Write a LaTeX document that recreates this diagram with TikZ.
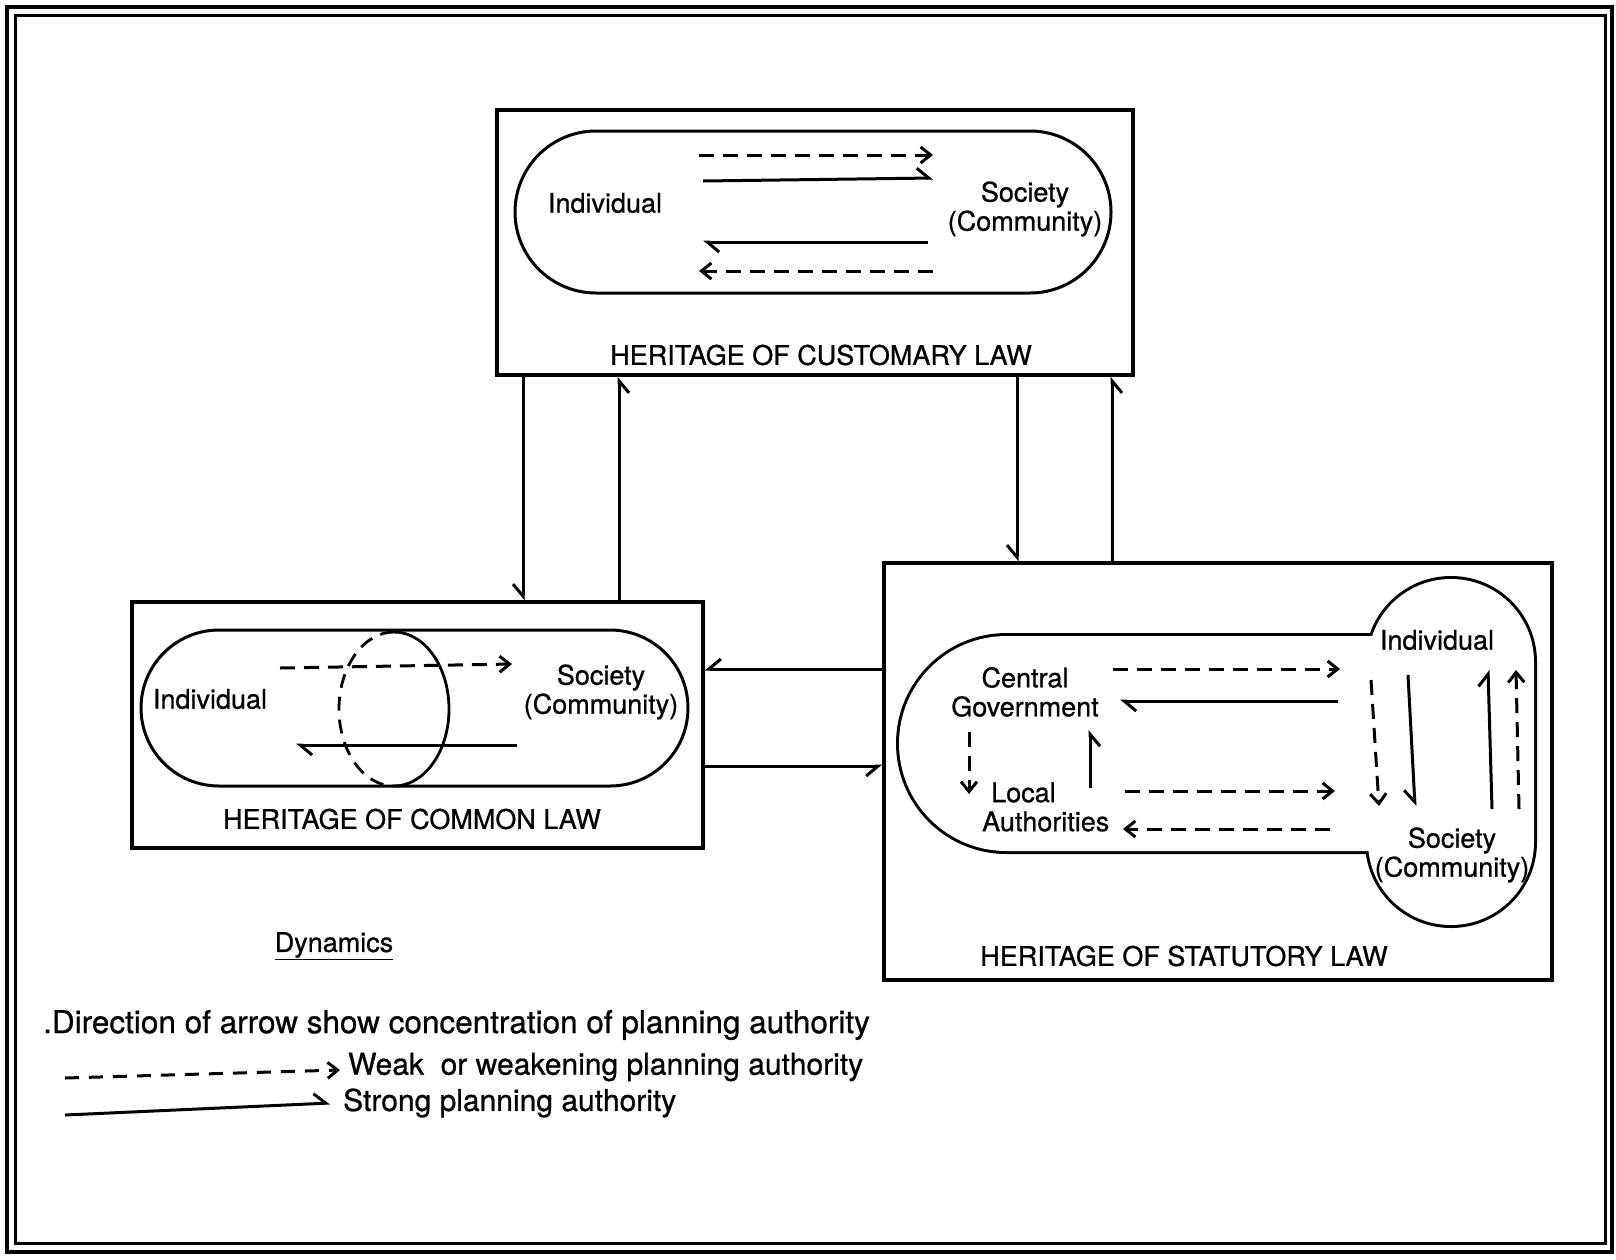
\documentclass[tikz,border=0pt]{standalone}
\usepackage{fontspec}
\setmainfont{TeX Gyre Heros}[FakeBold=0.8]
\usetikzlibrary{arrows.meta,shapes.misc}
\begin{document}
\begin{tikzpicture}[x=1pt,y=-1pt,
  lbl/.style={font=\fontsize{27}{29}\selectfont, align=center, inner sep=0pt},
  legtxt/.style={font=\fontsize{30}{32}\selectfont, anchor=west, inner sep=0pt},
  heritage/.style={draw, line width=3.5pt, rectangle, inner sep=0pt},
  pill/.style={draw, line width=3pt, rounded rectangle, inner sep=0pt},
  weak/.style={line width=3pt, dash pattern=on 15pt off 9pt, -{Straight Barb[length=10pt,width=16pt]}},
  strong/.style={line width=3pt, -{Straight Barb[harpoon,length=12pt,width=20pt]}},
  strongs/.style={line width=3pt, -{Straight Barb[harpoon,swap,length=12pt,width=20pt]}},
]
\useasboundingbox (0,0) rectangle (1616,1259);
\fill[white] (0,0) rectangle (1616,1259);
% outer frame
\draw[line width=4pt] (7,7) rectangle (1612,1252);
\draw[line width=3pt] (15,15) rectangle (1605,1243);

% boxes
\node[heritage, minimum width=636pt, minimum height=265pt] (cust) at (815,242.5) {};
\node[heritage, minimum width=571pt, minimum height=246pt] (comm) at (417.5,725) {};
\node[heritage, minimum width=668pt, minimum height=417pt] (stat) at (1218,771.5) {};

% customary contents
\node[pill, minimum width=596pt, minimum height=162pt] (cpill) at (813,212) {};
\node[lbl] (cind) at (605,203) {Individual};
\node[lbl] (csoc) at (1025,209) {Society\\(Community)};
\draw[weak] (699,155) -- (933,155);
\draw[strong] (703,181) -- (933,178);
\draw[strong] (928,242) -- (703,242);
\draw[weak] (933,271) -- (699,271);
\node[lbl] (ctitle) at (821,355) {HERITAGE OF CUSTOMARY LAW};

% common law contents
\node[pill, minimum width=547pt, minimum height=156pt] (mpill) at (414.5,708) {};
\draw[line width=2.8pt, dash pattern=on 14pt off 9pt] (394,632) arc[start angle=270, end angle=90, x radius=55, y radius=77];
\draw[line width=2.8pt] (394,632) arc[start angle=270, end angle=450, x radius=55, y radius=77];
\node[lbl] (mind) at (210,699) {Individual};
\node[lbl] (msoc) at (601,692) {Society\\(Community)};
\draw[weak] (280,668) -- (512,664);
\draw[strong] (517,745) -- (296,745);
\node[lbl] (mtitle) at (412,819) {HERITAGE OF COMMON LAW};

% statutory contents: union outline
\draw[line width=6pt] (1463,636) -- (1006.5,636) arc[start angle=270, end angle=90, radius=107.5] -- (1463,851) -- cycle;
\draw[line width=6pt] (1368,662) arc[start angle=180, end angle=360, radius=83] -- (1534,842) arc[start angle=0, end angle=180, radius=83] -- cycle;
\fill[white] (1463,636) -- (1006.5,636) arc[start angle=270, end angle=90, radius=107.5] -- (1463,851) -- cycle;
\fill[white] (1368,662) arc[start angle=180, end angle=360, radius=83] -- (1534,842) arc[start angle=0, end angle=180, radius=83] -- cycle;
\node[lbl] (sind) at (1437,640) {Individual};
\node[lbl] (scg) at (1025,692) {Central\\Government};
\node[lbl, align=left, anchor=west] (sla) at (982,807) {\hspace*{9pt}Local\\Authorities};
\node[lbl] (ssoc) at (1452,855) {Society\\(Community)};
\draw[weak] (1113,669) -- (1340,669);
\draw[strong] (1338,701) -- (1120,701);
\draw[weak] (969,732) -- (969,794);
\draw[strongs] (1090,788) -- (1090,730);
\draw[weak] (1125,791) -- (1335,791);
\draw[weak] (1330,829) -- (1123,829);
\draw[weak] (1371,680) -- (1379,806);
\draw[strongs] (1408,675) -- (1415,806);
\draw[strong] (1492,809) -- (1488,670);
\draw[weak] (1519,809) -- (1516,670);
\node[lbl] (stitle) at (1184,956) {HERITAGE OF STATUTORY LAW};

% connectors between boxes
\coordinate (xa) at (523,0);
\coordinate (xb) at (619,0);
\coordinate (xc) at (1017,0);
\coordinate (xd) at (1112,0);
\coordinate (ya) at (0,669);
\coordinate (yb) at (0,766);
\draw[strongs] (cust.south -| xa) -- (comm.north -| xa);
\draw[strongs] (comm.north -| xb) -- (cust.south -| xb);
\draw[strongs] (cust.south -| xc) -- (stat.north -| xc);
\draw[strongs] (stat.north -| xd) -- (cust.south -| xd);
\draw[strongs] (stat.west |- ya) -- (comm.east |- ya);
\draw[strongs] (comm.east |- yb) -- (stat.west |- yb);

% legend
\node[lbl, anchor=center] (dyn) at (334,946) {\underline{Dynamics}};
\node[legtxt, font=\fontsize{31.5}{33}\selectfont] (dir) at (43,1025) {.Direction of arrow show concentration of planning authority};
\coordinate (w1) at (65,1078);
\coordinate (w2) at (340,1070);
\draw[weak, dash pattern=on 14pt off 10pt] (w1) -- (w2);
\node[legtxt] (weaktxt) at (348,1067) {Weak\ \ or weakening planning authority};
\coordinate (s1) at (65,1115);
\coordinate (s2) at (330,1103);
\draw[strong] (s1) -- (s2);
\node[legtxt] (strongtxt) at (343,1103) {Strong planning authority};
\end{tikzpicture}
\end{document}
